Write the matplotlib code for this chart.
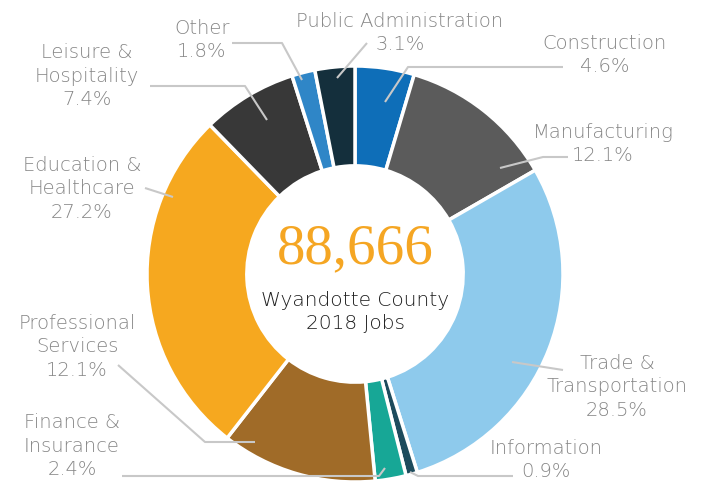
import matplotlib.pyplot as plt

# Wyandotte County jobs by sector, 2018 (share of total, %)
sectors = ['Construction', 'Manufacturing', 'Trade &\nTransportation', 'Information',
           'Finance &\nInsurance', 'Professional\nServices', 'Education &\nHealthcare',
           'Leisure &\nHospitality', 'Other', 'Public Administration']
shares = [4.6, 12.1, 28.5, 0.9, 2.4, 12.1, 27.2, 7.4, 1.8, 3.1]
total_jobs = 88666
colors = ['#0e6eb8', '#5b5b5b', '#8ecaec', '#1d4b5c', '#17a796',
          '#a06b28', '#f6a81f', '#383838', '#2f86c7', '#142f3c']

W, H = 712, 482
cx, cy, R = 355, 482 - 274, 208

fig = plt.figure(figsize=(W / 100, H / 100), dpi=100)
ax = fig.add_axes([0, 0, 1, 1])

ax.pie(shares, colors=colors, startangle=90, counterclock=False,
       center=(cx, cy), radius=R, frame=True,
       wedgeprops=dict(width=R * 0.48, edgecolor='white', linewidth=2.5))
ax.set_xlim(0, W)
ax.set_ylim(0, H)
ax.set_aspect('equal')
ax.axis('off')

# label text position (x, y from top) and leader path (pixels from top)
label_pos = {
    'Construction': (605, 55, [(385, 102), (408, 67), (563, 67)]),
    'Manufacturing': (603, 144, [(500, 168), (543, 157), (568, 157)]),
    'Trade &\nTransportation': (617, 387, [(512, 362), (563, 370)]),
    'Information': (546, 460, [(410, 472), (418, 476), (513, 476)]),
    'Finance &\nInsurance': (72, 446, [(385, 468), (379, 476), (122, 476)]),
    'Professional\nServices': (77, 347, [(255, 442), (205, 442), (118, 365)]),
    'Education &\nHealthcare': (82, 189, [(173, 197), (145, 188)]),
    'Leisure &\nHospitality': (87, 76, [(267, 120), (245, 86), (150, 86)]),
    'Other': (202, 40, [(302, 80), (282, 43), (232, 43)]),
    'Public Administration': (400, 33, [(337, 78), (367, 43)]),
}

lab_font = dict(family='DejaVu Sans', fontsize=14, color='#868686',
                fontweight='light', ha='center', va='center', linespacing=1.3)
for name, share in zip(sectors, shares):
    tx, ty, path = label_pos[name]
    xs = [p[0] for p in path]
    ys = [H - p[1] for p in path]
    ax.plot(xs, ys, color='#c8c8c8', lw=1.5, solid_capstyle='butt')
    ax.text(tx, H - ty, f'{name}\n{share}%', **lab_font)

ax.text(cx, H - 249, f'{total_jobs:,}', family='Liberation Serif', fontsize=41,
        color='#f5a623', ha='center', va='center')
ax.text(cx, H - 312, 'Wyandotte County\n2018 Jobs', family='DejaVu Sans', fontsize=14.5,
        color='#1e1e1e', fontweight='light', ha='center', va='center', linespacing=1.3)

fig.savefig('out.png', dpi=100)
